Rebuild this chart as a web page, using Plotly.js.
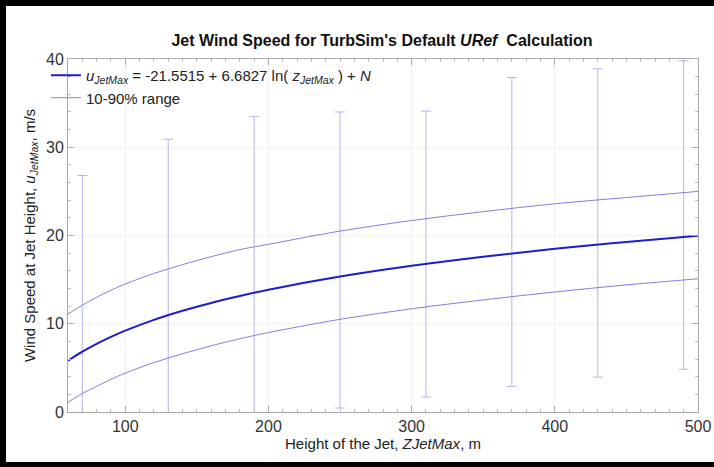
<!DOCTYPE html>
<html>
<head>
<meta charset="utf-8">
<script src="https://cdn.plot.ly/plotly-3.0.1.min.js"></script>
<style>
html,body{margin:0;padding:0;background:#fff;}
#wrap{position:relative;width:714px;height:467px;overflow:hidden;}
#chart{position:absolute;left:0;top:0;width:714px;height:467px;}
#frame{position:absolute;left:0;top:0;width:714px;height:467px;box-sizing:border-box;
  border-left:6px solid #000;border-top:6px solid #000;border-bottom:5px solid #000;border-right:0;pointer-events:none;}
</style>
</head>
<body>
<div id="wrap"><div id="chart"></div><div id="frame"></div></div>
<script>
// Curve samples (height of jet, m) and wind speeds (m/s)
const zCurve = [60, 70, 80, 90, 100, 120, 140, 160, 180, 200, 250, 300, 350, 400, 450, 500];
const uMean  = [5.81, 6.84, 7.73, 8.52, 9.22, 10.44, 11.47, 12.36, 13.15, 13.86, 15.35, 16.57, 17.60, 18.49, 19.27, 19.98];
const uUpper = [11.1, 12.1, 13.0, 13.8, 14.5, 15.7, 16.7, 17.6, 18.4, 19.0, 20.5, 21.7, 22.7, 23.6, 24.3, 25.0];
const uLower = [1.1, 2.1, 2.9, 3.7, 4.4, 5.6, 6.6, 7.5, 8.3, 9.0, 10.5, 11.7, 12.7, 13.6, 14.4, 15.1];

// Error bar ranges
const zBars   = [70, 130, 190, 250, 310, 370, 430, 490];
const barTop  = [26.8, 30.9, 33.5, 34.0, 34.1, 37.9, 38.9, 39.8];
const barLow  = [-1.0, -1.0, -1.0, 0.45, 1.7, 2.9, 3.95, 4.85];

const meanColor = '#1c1cd0';
const bandColor = '#8080e0';
const barColor  = '#b4b4ec';

const traces = [
  {
    x: zBars, y: barLow, type: 'scatter', mode: 'markers',
    marker: {size: 1, opacity: 0},
    error_y: {type: 'data', symmetric: false,
      array: barTop.map((t, i) => t - barLow[i]),
      arrayminus: barLow.map(() => 0),
      color: barColor, thickness: 1, width: 5},
    showlegend: false, hoverinfo: 'skip'
  },
  {
    x: zCurve, y: uMean, type: 'scatter', mode: 'lines',
    line: {color: meanColor, width: 2, shape: 'spline'},
    name: '<i>u</i><sub><i>JetMax</i></sub> = -21.5515 + 6.6827 ln( <i>z</i><sub><i>JetMax</i></sub> ) + <i>N</i>'
  },
  {
    x: zCurve, y: uUpper, type: 'scatter', mode: 'lines',
    line: {color: bandColor, width: 1, shape: 'spline'},
    name: '10-90% range', legendgroup: 'band'
  },
  {
    x: zCurve, y: uLower, type: 'scatter', mode: 'lines',
    line: {color: bandColor, width: 1, shape: 'spline'},
    name: '10-90% range', legendgroup: 'band', showlegend: false
  }
];

const tickFont = {family: 'Liberation Sans, Arial, sans-serif', size: 16, color: '#333'};

const layout = {
  width: 714, height: 467,
  margin: {l: 68, r: 16, t: 59, b: 55},
  paper_bgcolor: '#fff', plot_bgcolor: '#fff',
  font: {family: 'Liberation Sans, Arial, sans-serif', color: '#222'},
  title: {text: "<b>Jet Wind Speed for TurbSim's Default <i>URef</i>  Calculation</b>",
    font: {size: 16, color: '#111'}, x: 0.535, xanchor: 'center', y: 0.913, yanchor: 'middle'},
  showlegend: true,
  legend: {x: -0.035, y: 1.0, xanchor: 'left', yanchor: 'top', bgcolor: 'rgba(0,0,0,0)',
    font: {size: 15, color: '#222'}, tracegroupgap: 0},
  xaxis: {
    range: [60, 500], tickvals: [100, 200, 300, 400, 500],
    ticks: 'inside', ticklen: 6, tickcolor: '#aaa', tickfont: tickFont,
    showline: true, linecolor: '#aaa', linewidth: 1, mirror: 'ticks',
    showgrid: true, gridcolor: '#f0f0f0', zeroline: false,
    minor: {dtick: 10, tick0: 0, ticks: 'inside', ticklen: 3, tickcolor: '#bbb', showgrid: false},
    title: {text: 'Height of the Jet, <i>ZJetMax</i>, m', font: {size: 15, color: '#222'}, standoff: 0}
  },
  yaxis: {
    range: [0, 40], tickvals: [0, 10, 20, 30, 40],
    ticks: 'inside', ticklen: 6, tickcolor: '#aaa', tickfont: tickFont,
    showline: true, linecolor: '#aaa', linewidth: 1, mirror: 'ticks',
    showgrid: true, gridcolor: '#f0f0f0', zeroline: false,
    minor: {dtick: 2, tick0: 0, ticks: 'inside', ticklen: 3, tickcolor: '#bbb', showgrid: false},
    title: {text: 'Wind Speed at Jet Height, <i>u</i><sub><i>JetMax</i></sub>, m/s', font: {size: 15, color: '#222'}, standoff: 6}
  }
};

Plotly.newPlot('chart', traces, layout, {staticPlot: true, displayModeBar: false});
</script>
</body>
</html>
